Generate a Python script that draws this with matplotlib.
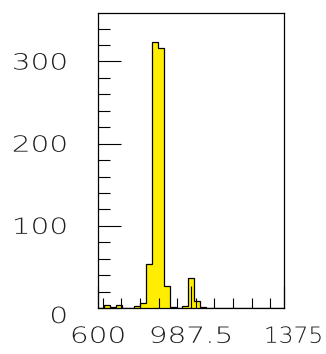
import numpy as np
import matplotlib
matplotlib.use('Agg')
import matplotlib.pyplot as plt
import matplotlib.transforms as mtransforms
from matplotlib.patheffects import AbstractPathEffect
from matplotlib.ticker import MultipleLocator, FixedLocator

# histogram: 31 bins of 25 from 600 to 1375
XMIN = 600.
XMAX = 1375.
NBINS = 31
counts = [0, 4, 1, 4, 0, 0, 2, 6, 54, 324, 317, 27, 1, 0, 2, 36, 9, 1, 0.5,
          0, 0, 0, 0, 0, 0, 0, 0, 0, 0, 0, 0]
x_labels = [600, 987.5, 1375]
x_label_text = ['600', '987.5', '1375']
y_major = [0, 100, 200, 300]


class Stretch(AbstractPathEffect):
    """ Widen glyphs horizontally (the original font is wider than DejaVu) """
    def __init__(self, sx, anchor='center'):
        super().__init__()
        self.sx = sx
        self.anchor = anchor

    def draw_path(self, renderer, gc, tpath, affine, rgbFace=None):
        ext = tpath.get_extents()
        x0 = ext.x1 if self.anchor == 'right' else 0.5 * (ext.x0 + ext.x1)
        stretch = mtransforms.Affine2D().translate(-x0, 0).scale(self.sx, 1).translate(x0, 0)
        renderer.draw_path(gc, tpath, stretch + affine, rgbFace)


def main():
    plt.rcParams['font.family'] = 'DejaVu Sans'
    fig = plt.figure(figsize=(3.26, 3.54), dpi=100, facecolor='w')
    ax = fig.add_axes([98 / 326, 46 / 354, 186 / 326, 295 / 354])

    edges = np.linspace(XMIN, XMAX, NBINS + 1)
    ax.stairs(counts, edges, fill=True, facecolor='#ffee00', edgecolor='none')
    ax.stairs(counts, edges, color='black', linewidth=0.9)

    ax.set_xlim(XMIN, XMAX)
    ax.set_ylim(0, 359)

    ax.xaxis.set_major_locator(FixedLocator(x_labels))
    ax.set_xticklabels(x_label_text)
    ax.xaxis.set_minor_locator(MultipleLocator(77.5))
    ax.yaxis.set_major_locator(FixedLocator(y_major))
    ax.yaxis.set_minor_locator(MultipleLocator(20))

    ax.tick_params(axis='both', which='both', direction='in', color='black',
                   width=0.8, labelsize=16, labelcolor='#202020',
                   top=False, right=False)
    ax.tick_params(axis='y', which='major', length=16.5, pad=22)
    ax.tick_params(axis='y', which='minor', length=8.6)
    ax.tick_params(axis='x', which='major', length=16, pad=13.5)
    ax.tick_params(axis='x', which='minor', length=7.2)
    xlabs = ax.get_xticklabels()
    for lab, sx in zip(xlabs, [1.33, 1.33, 1.05]):
        lab.set_fontweight('light')
        lab.set_path_effects([Stretch(sx)])
    ylabs = ax.get_yticklabels()
    for lab in ylabs:
        lab.set_fontweight('light')
        lab.set_path_effects([Stretch(1.33, anchor='right')])

    # shift "0" down and "1375" right, as in the original
    ylabs[0].set_transform(ylabs[0].get_transform() +
                           mtransforms.ScaledTranslation(0, -7 / 100, fig.dpi_scale_trans))
    xlabs[-1].set_transform(xlabs[-1].get_transform() +
                            mtransforms.ScaledTranslation(9.5 / 100, 0, fig.dpi_scale_trans))

    for sp in ax.spines.values():
        sp.set_linewidth(0.9)
        sp.set_color('black')

    fig.savefig('out.png', dpi=100)


if __name__ == '__main__':
    main()
